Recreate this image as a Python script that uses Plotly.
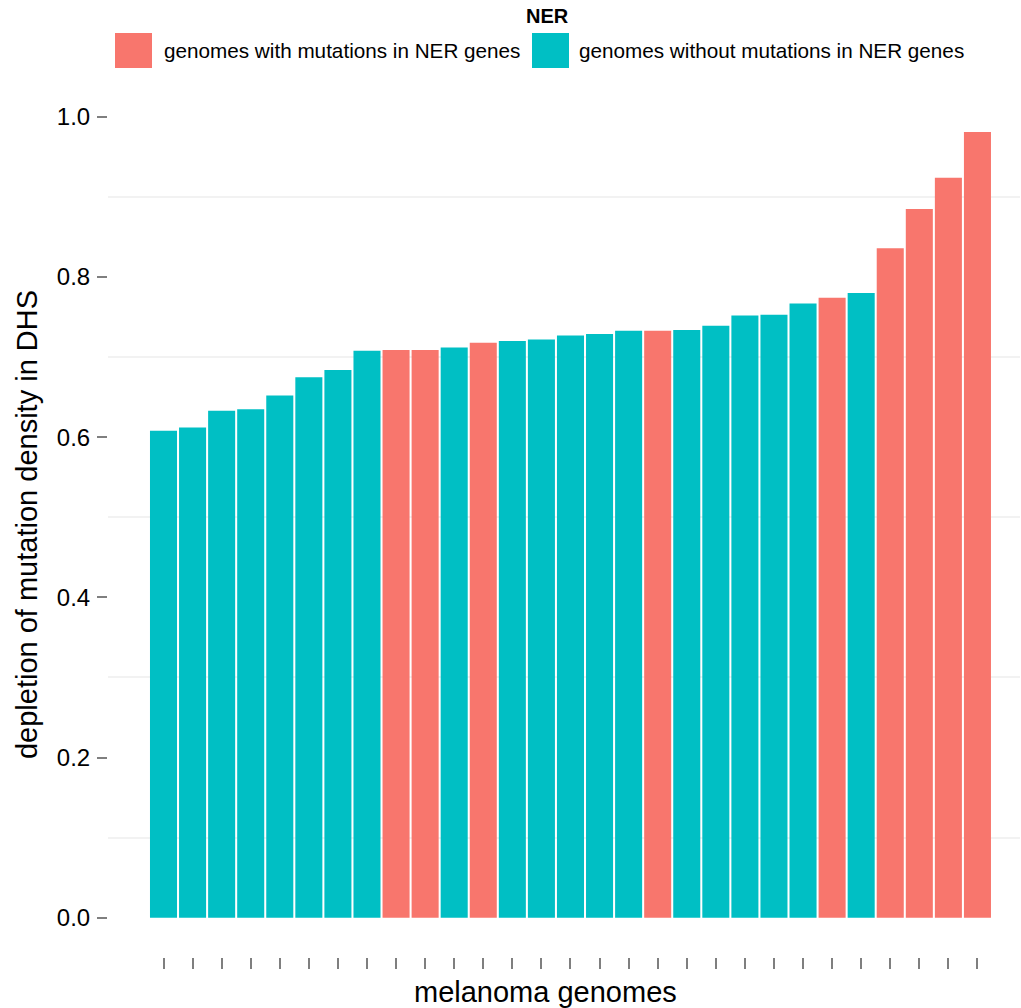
import plotly.graph_objects as go

# Depletion of mutation density in DHS, one bar per melanoma genome (sorted)
depletion = [0.608, 0.612, 0.633, 0.635, 0.652, 0.675, 0.684, 0.708, 0.709, 0.709,
             0.712, 0.718, 0.720, 0.722, 0.727, 0.729, 0.733, 0.733, 0.734, 0.739,
             0.752, 0.753, 0.767, 0.774, 0.780, 0.836, 0.885, 0.924, 0.981]
# True where the genome carries mutations in NER genes
ner_mutated = [False, False, False, False, False, False, False, False, True, True,
               False, True, False, False, False, False, False, True, False, False,
               False, False, False, True, False, True, True, True, True]

group_labels = ["genomes with mutations in NER genes",
                "genomes without mutations in NER genes"]
group_colors = ["#F8766D", "#00BFC4"]
y_ticks = [0.0, 0.2, 0.4, 0.6, 0.8, 1.0]
y_tick_text = ["0.0", "0.2", "0.4", "0.6", "0.8", "1.0"]

FONT = "Liberation Sans, Arial, Helvetica, sans-serif"
W, H = 1021, 1008
L, R, T, B = 108, 1, 92, 51
pw, ph = W - L - R, H - T - B


def px_x(p):
    return (p - L) / pw


def px_y(p):
    return (H - B - p) / ph


idx = list(range(len(depletion)))
fig = go.Figure()
for flag, name, color in zip([True, False], group_labels, group_colors):
    xs = [i for i in idx if ner_mutated[i] == flag]
    ys = [depletion[i] for i in idx if ner_mutated[i] == flag]
    fig.add_trace(go.Bar(x=xs, y=ys, name=name, width=0.93,
                         marker=dict(color=color, line=dict(width=0)),
                         showlegend=False))

# Legend drawn as swatches + labels
shapes = []
annotations = []
for (x0, x1), name, color, tx in zip([(115, 152), (532, 569)], group_labels,
                                     group_colors, [162, 577]):
    shapes.append(dict(type="rect", xref="paper", yref="paper",
                       x0=px_x(x0), x1=px_x(x1), y0=px_y(68), y1=px_y(33),
                       fillcolor=color, line=dict(width=0)))
    annotations.append(dict(text=name, xref="paper", yref="paper",
                            x=px_x(tx), y=px_y(51), xanchor="left", yanchor="middle",
                            showarrow=False, font=dict(size=20.7, color="#000", family=FONT)))
annotations.append(dict(text="<b>NER</b>", xref="paper", yref="paper",
                        x=px_x(547), y=px_y(16), xanchor="center", yanchor="middle",
                        showarrow=False, font=dict(size=20, color="#000", family=FONT)))
annotations.append(dict(text="melanoma genomes", xref="paper", yref="paper",
                        x=px_x(545.5), y=px_y(992), xanchor="center", yanchor="middle",
                        showarrow=False, font=dict(size=29, color="#000", family=FONT)))

fig.update_layout(
    width=W, height=H,
    margin=dict(l=L, r=R, t=T, b=B, pad=0),
    paper_bgcolor="white", plot_bgcolor="white",
    barmode="overlay",
    font=dict(family=FONT, color="#000"),
    shapes=shapes, annotations=annotations,
)
fig.update_xaxes(range=[(L - 163.5) / 29.07, (W - R - 163.5) / 29.07],
                 tickvals=idx, ticktext=[""] * len(idx),
                 ticks="outside", ticklen=11, tickwidth=1.5, tickcolor="#7f7f7f",
                 showgrid=False, zeroline=False, showline=False)
fig.update_yaxes(range=[-0.049, 1.031],
                 tickvals=y_ticks, ticktext=y_tick_text,
                 ticks="outside", ticklen=10, tickwidth=1.5, tickcolor="#7f7f7f",
                 tickfont=dict(size=24, color="#000", family=FONT),
                 ticklabelstandoff=2,
                 showgrid=False, zeroline=False, showline=False,
                 minor=dict(tickvals=[0.1, 0.3, 0.5, 0.7, 0.9], showgrid=True,
                            gridcolor="#f2f2f2", gridwidth=1.5, ticks=""),
                 title=dict(text="depletion of mutation density in DHS",
                            font=dict(size=29, color="#000", family=FONT), standoff=10))

fig.write_html("out.html")
